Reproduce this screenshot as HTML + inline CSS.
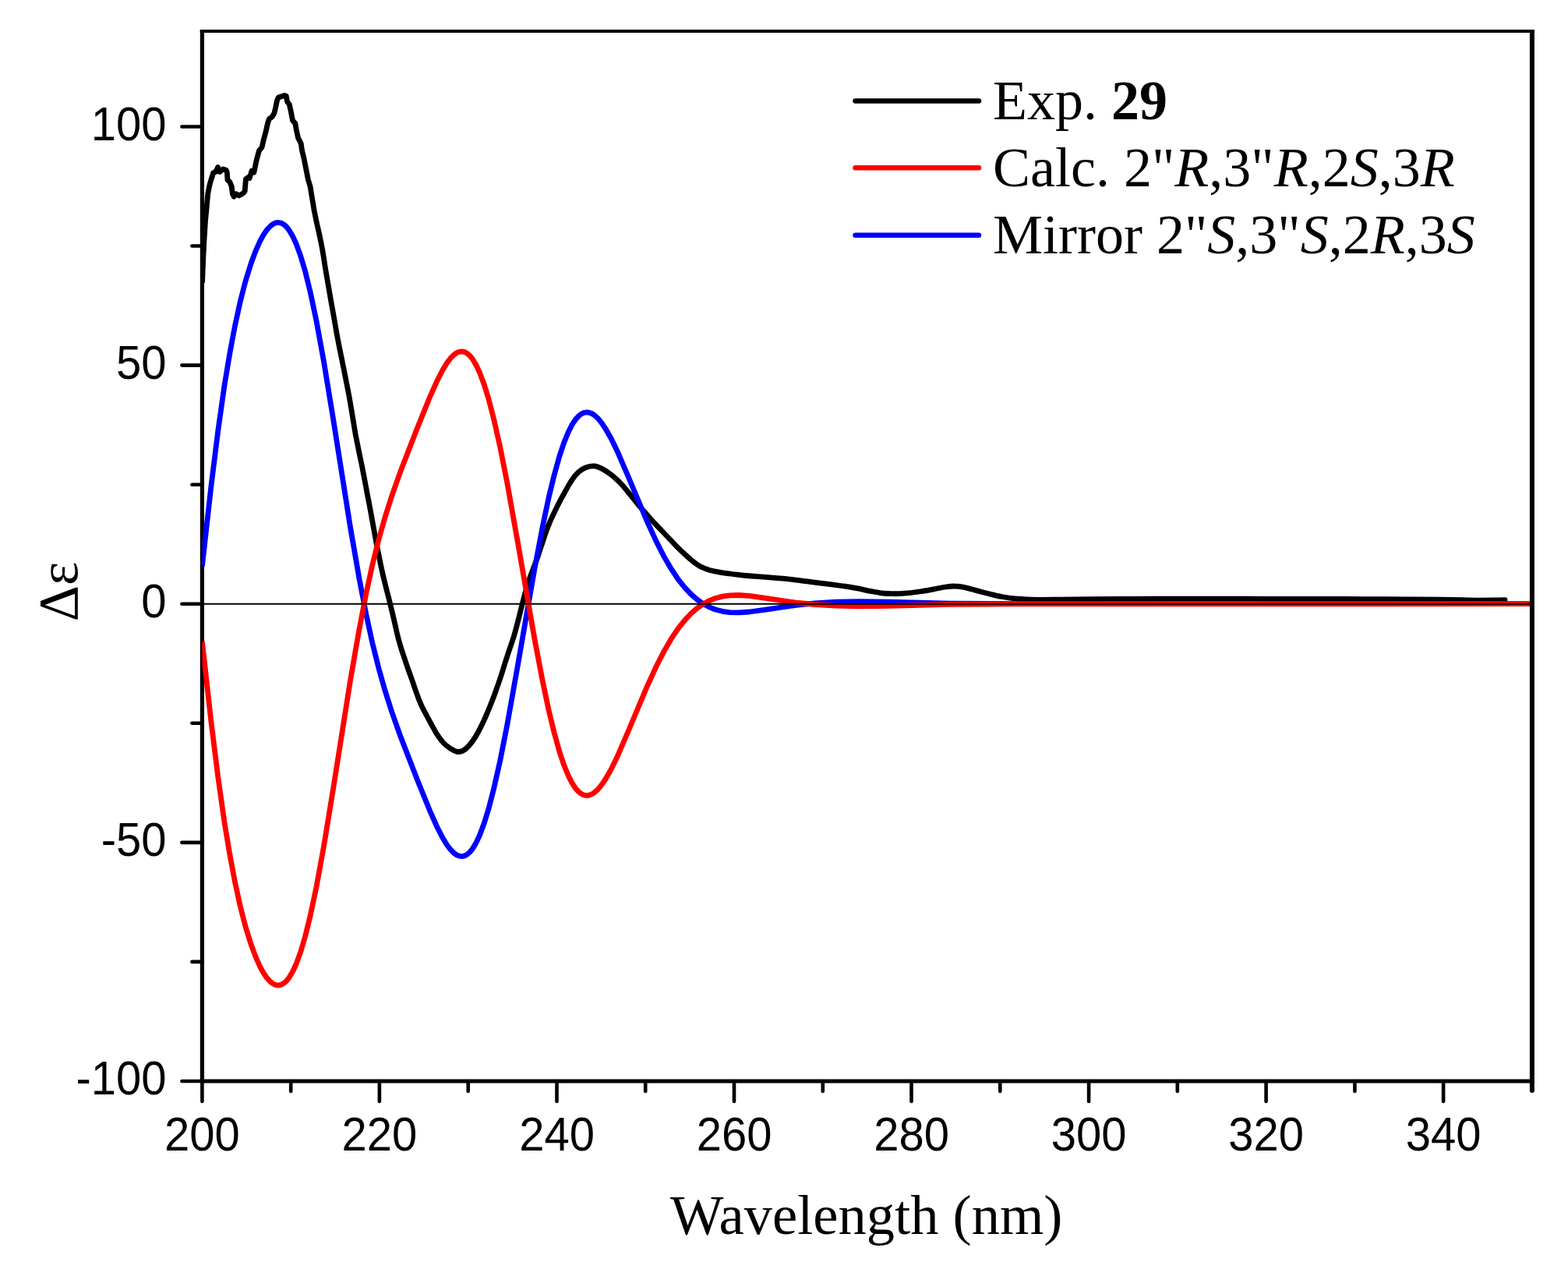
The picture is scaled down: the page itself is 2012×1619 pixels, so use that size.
<!DOCTYPE html>
<html><head><meta charset="utf-8"><title>CD spectrum</title><style>html,body{margin:0;padding:0;background:#fff;}svg{display:block;}</style></head><body>
<svg width="2012" height="1619" viewBox="0 0 2012 1619">
<rect width="2012" height="1619" fill="#fff"/>
<line x1="233.4" y1="1387.0" x2="259.4" y2="1387.0" stroke="#000" stroke-width="4.6" stroke-linecap="round"/>
<line x1="233.4" y1="1080.9" x2="259.4" y2="1080.9" stroke="#000" stroke-width="4.6" stroke-linecap="round"/>
<line x1="233.4" y1="774.7" x2="259.4" y2="774.7" stroke="#000" stroke-width="4.6" stroke-linecap="round"/>
<line x1="233.4" y1="468.6" x2="259.4" y2="468.6" stroke="#000" stroke-width="4.6" stroke-linecap="round"/>
<line x1="233.4" y1="162.5" x2="259.4" y2="162.5" stroke="#000" stroke-width="4.6" stroke-linecap="round"/>
<line x1="246.4" y1="1233.9" x2="259.4" y2="1233.9" stroke="#000" stroke-width="4.6" stroke-linecap="round"/>
<line x1="246.4" y1="927.8" x2="259.4" y2="927.8" stroke="#000" stroke-width="4.6" stroke-linecap="round"/>
<line x1="246.4" y1="621.7" x2="259.4" y2="621.7" stroke="#000" stroke-width="4.6" stroke-linecap="round"/>
<line x1="246.4" y1="315.5" x2="259.4" y2="315.5" stroke="#000" stroke-width="4.6" stroke-linecap="round"/>
<line x1="259.4" y1="1387.0" x2="259.4" y2="1413.0" stroke="#000" stroke-width="4.6" stroke-linecap="round"/>
<line x1="486.9" y1="1387.0" x2="486.9" y2="1413.0" stroke="#000" stroke-width="4.6" stroke-linecap="round"/>
<line x1="714.5" y1="1387.0" x2="714.5" y2="1413.0" stroke="#000" stroke-width="4.6" stroke-linecap="round"/>
<line x1="942.0" y1="1387.0" x2="942.0" y2="1413.0" stroke="#000" stroke-width="4.6" stroke-linecap="round"/>
<line x1="1169.5" y1="1387.0" x2="1169.5" y2="1413.0" stroke="#000" stroke-width="4.6" stroke-linecap="round"/>
<line x1="1397.1" y1="1387.0" x2="1397.1" y2="1413.0" stroke="#000" stroke-width="4.6" stroke-linecap="round"/>
<line x1="1624.6" y1="1387.0" x2="1624.6" y2="1413.0" stroke="#000" stroke-width="4.6" stroke-linecap="round"/>
<line x1="1852.1" y1="1387.0" x2="1852.1" y2="1413.0" stroke="#000" stroke-width="4.6" stroke-linecap="round"/>
<line x1="373.2" y1="1387.0" x2="373.2" y2="1400.0" stroke="#000" stroke-width="4.6" stroke-linecap="round"/>
<line x1="600.7" y1="1387.0" x2="600.7" y2="1400.0" stroke="#000" stroke-width="4.6" stroke-linecap="round"/>
<line x1="828.2" y1="1387.0" x2="828.2" y2="1400.0" stroke="#000" stroke-width="4.6" stroke-linecap="round"/>
<line x1="1055.8" y1="1387.0" x2="1055.8" y2="1400.0" stroke="#000" stroke-width="4.6" stroke-linecap="round"/>
<line x1="1283.3" y1="1387.0" x2="1283.3" y2="1400.0" stroke="#000" stroke-width="4.6" stroke-linecap="round"/>
<line x1="1510.8" y1="1387.0" x2="1510.8" y2="1400.0" stroke="#000" stroke-width="4.6" stroke-linecap="round"/>
<line x1="1738.4" y1="1387.0" x2="1738.4" y2="1400.0" stroke="#000" stroke-width="4.6" stroke-linecap="round"/>
<line x1="1965.9" y1="1387.0" x2="1965.9" y2="1399.0" stroke="#000" stroke-width="6.0" stroke-linecap="round"/>
<line x1="256.8" y1="40.0" x2="1968.9" y2="40.0" stroke="#000" stroke-width="3.8"/>
<line x1="256.8" y1="1387.0" x2="1968.9" y2="1387.0" stroke="#000" stroke-width="4.9"/>
<line x1="259.4" y1="38.1" x2="259.4" y2="1389.5" stroke="#000" stroke-width="5.2"/>
<line x1="1965.9" y1="38.1" x2="1965.9" y2="1389.5" stroke="#000" stroke-width="6.0"/>
<g font-family="'Liberation Sans', Arial, sans-serif" font-size="58" fill="#000">
<text transform="translate(213.6 1404.4) scale(1 1.050)" text-anchor="end">-100</text>
<text transform="translate(213.6 1098.3) scale(1 1.050)" text-anchor="end">-50</text>
<text transform="translate(213.6 792.1) scale(1 1.050)" text-anchor="end">0</text>
<text transform="translate(213.6 486.0) scale(1 1.050)" text-anchor="end">50</text>
<text transform="translate(213.6 179.9) scale(1 1.050)" text-anchor="end">100</text>
<text transform="translate(259.4 1476) scale(1 1.050)" text-anchor="middle">200</text>
<text transform="translate(486.9 1476) scale(1 1.050)" text-anchor="middle">220</text>
<text transform="translate(714.5 1476) scale(1 1.050)" text-anchor="middle">240</text>
<text transform="translate(942.0 1476) scale(1 1.050)" text-anchor="middle">260</text>
<text transform="translate(1169.5 1476) scale(1 1.050)" text-anchor="middle">280</text>
<text transform="translate(1397.1 1476) scale(1 1.050)" text-anchor="middle">300</text>
<text transform="translate(1624.6 1476) scale(1 1.050)" text-anchor="middle">320</text>
<text transform="translate(1852.1 1476) scale(1 1.050)" text-anchor="middle">340</text>
</g>
<text x="1111.75" y="1583" text-anchor="middle" font-family="'Liberation Serif', 'Times New Roman', serif" font-size="72.5">Wavelength (nm)</text>
<text transform="translate(99 759) rotate(-90)" text-anchor="middle" font-family="'Liberation Serif', 'Times New Roman', serif" font-size="72">Δε</text>
<defs><clipPath id="pc"><rect x="259.4" y="40.0" width="1703.5" height="1347.0"/></clipPath></defs>
<g clip-path="url(#pc)">
<path d="M259.6 361.0L260.8 330.8L262.0 307.3L263.5 283.8L265.3 265.0L266.7 248.7L268.5 239.3L269.7 234.6L272.6 225.2L273.8 221.7L276.7 220.5L279.6 214.6L282.0 220.5L286.1 217.0L290.2 218.2L291.4 221.7L292.0 231.0L294.9 233.4L297.2 239.3L298.4 248.7L300.2 252.2L303.1 248.7L306.6 251.0L309.0 249.8L312.5 247.5L314.2 245.1L315.4 229.9L318.3 227.5L320.1 228.7L323.0 219.3L325.9 221.2L328.7 207.3L332.4 193.4L336.1 188.8L338.0 180.4L340.8 170.2L343.5 158.2L345.4 152.6L349.1 149.9L351.9 145.2L353.7 137.8L355.6 128.5L357.4 124.8L361.1 123.9L364.9 122.5L367.2 123.0L368.6 130.4L371.3 134.1L373.2 142.4L375.5 154.5L378.8 158.2L380.1 165.6L382.5 176.7L386.2 184.1L387.6 193.4L389.9 202.7L391.7 211.9L393.6 221.2L395.4 230.5L398.2 239.7L399.6 249.0L401.5 260.0C401.8 261.6 402.3 265.7 403.1 269.8C403.9 273.9 405.0 279.2 406.1 284.6C407.3 289.9 408.8 296.1 410.0 301.8C411.2 307.6 412.4 313.3 413.5 319.1C414.5 324.9 415.4 330.6 416.3 336.4C417.2 342.2 418.1 347.9 419.1 353.7C420.1 359.5 421.1 365.2 422.1 371.0C423.1 376.8 424.1 382.5 425.1 388.3C426.1 394.0 427.2 399.8 428.2 405.5C429.2 411.3 430.2 417.0 431.2 422.8C432.2 428.6 433.3 434.3 434.4 440.1C435.5 445.9 436.7 451.6 437.9 457.4C439.1 463.2 440.2 468.9 441.4 474.7C442.5 480.5 443.7 486.1 444.8 492.0C446.0 497.9 447.2 504.2 448.3 510.1C449.3 515.9 450.3 521.7 451.2 527.0C452.1 532.3 452.7 536.5 453.6 541.8C454.5 547.2 455.4 552.9 456.5 559.0C457.7 565.2 459.2 572.2 460.5 578.8C461.8 585.4 463.3 591.9 464.6 598.5C465.9 605.1 467.2 612.1 468.4 618.3C469.6 624.5 470.7 630.2 471.7 635.8C472.8 641.4 473.7 645.9 474.8 651.8C475.9 657.7 477.0 664.3 478.3 671.2C479.6 678.2 480.9 686.0 482.4 693.5C483.8 700.9 485.3 708.7 486.8 716.0C488.2 723.2 489.8 730.7 491.3 737.1C492.8 743.6 494.3 749.5 495.5 754.5C496.8 759.6 497.9 763.6 498.8 767.2C499.7 770.8 500.2 772.8 500.9 775.9C501.7 779.0 502.4 781.8 503.3 785.7C504.3 789.6 505.5 794.9 506.5 799.3C507.5 803.7 508.6 808.5 509.4 812.2C510.3 816.0 511.0 818.7 511.8 821.5C512.5 824.3 513.2 826.4 513.9 828.9C514.6 831.4 515.4 833.8 516.2 836.3C517.0 838.8 517.9 841.2 518.7 843.7C519.6 846.2 520.4 848.7 521.3 851.5C522.2 854.2 523.1 856.7 524.3 860.1C525.5 863.5 527.0 867.4 528.6 872.0C530.2 876.7 532.2 882.8 534.1 888.0C535.9 893.3 537.9 898.7 540.0 903.4C542.0 908.1 544.2 911.9 546.5 916.2C548.8 920.5 551.2 924.9 553.6 929.3C556.1 933.7 558.5 938.4 561.0 942.4C563.6 946.3 566.1 950.0 569.0 953.0C571.8 956.0 575.2 958.5 578.1 960.4C581.0 962.3 584.0 963.8 586.5 964.3C589.1 964.8 591.0 964.6 593.5 963.4C595.9 962.2 598.5 960.2 601.3 957.1C604.1 954.1 607.2 949.9 610.2 945.1C613.2 940.3 616.2 934.3 619.1 928.3C622.0 922.3 624.8 915.6 627.5 909.1C630.2 902.6 632.7 895.9 635.2 889.3C637.6 882.7 639.9 876.1 642.1 869.5C644.3 862.9 646.3 856.0 648.3 849.8C650.3 843.5 652.2 837.8 654.0 832.2C655.9 826.6 657.6 822.2 659.4 816.3C661.1 810.5 662.8 803.8 664.6 797.2C666.3 790.5 668.1 783.0 669.8 776.4C671.5 769.8 673.1 763.4 674.8 757.5C676.5 751.7 678.3 745.9 679.9 741.1C681.5 736.4 683.0 733.0 684.6 728.8C686.1 724.7 687.5 721.4 689.3 716.4C691.0 711.4 693.1 704.8 695.1 699.0C697.0 693.2 699.1 686.6 700.9 681.6C702.7 676.7 704.1 673.1 705.8 669.2C707.4 665.3 709.2 661.8 711.0 658.0C712.8 654.3 714.9 649.9 716.6 646.5C718.4 643.0 719.8 640.3 721.4 637.4C723.0 634.5 724.4 632.2 726.0 629.2C727.7 626.2 729.4 622.8 731.5 619.5C733.6 616.2 736.0 612.3 738.6 609.4C741.3 606.4 744.7 603.6 747.7 601.7C750.8 599.9 754.1 598.8 756.9 598.2C759.7 597.6 762.0 597.7 764.5 598.1C767.0 598.6 769.3 599.7 772.1 601.1C775.0 602.6 778.3 604.7 781.5 607.0C784.7 609.3 788.1 612.0 791.2 614.9C794.3 617.7 797.1 620.8 800.1 624.1C803.0 627.5 805.7 631.1 808.8 634.8C811.9 638.6 815.1 642.6 818.4 646.7C821.8 650.7 825.5 655.0 829.0 659.0C832.5 663.0 836.0 667.0 839.4 670.6C842.8 674.3 846.0 677.6 849.3 681.0C852.6 684.4 855.7 687.8 858.9 691.2C862.2 694.5 865.3 698.0 868.6 701.3C871.9 704.6 875.3 707.9 878.7 710.9C882.0 714.0 885.5 717.2 888.8 719.9C892.1 722.5 895.2 724.9 898.7 726.8C902.2 728.6 905.7 729.9 909.8 731.2C913.9 732.4 919.0 733.4 923.4 734.1C927.8 734.9 932.3 735.4 936.0 735.9C939.6 736.4 941.7 736.7 945.3 737.1C948.8 737.6 952.6 738.1 957.2 738.5C961.7 738.9 967.5 739.3 972.3 739.6C977.1 740.0 981.2 740.3 985.9 740.6C990.7 741.0 995.3 741.3 1000.9 741.8C1006.4 742.3 1013.1 743.0 1019.5 743.8C1025.9 744.5 1032.8 745.5 1039.4 746.3C1046.0 747.2 1052.7 748.1 1059.3 748.9C1065.9 749.8 1072.6 750.6 1079.2 751.5C1085.8 752.5 1092.8 753.5 1099.0 754.7C1105.3 755.8 1111.4 757.3 1116.7 758.3C1122.0 759.3 1126.1 760.2 1130.7 760.8C1135.3 761.3 1139.4 761.6 1144.4 761.7C1149.4 761.8 1154.9 761.7 1160.8 761.2C1166.7 760.8 1173.4 759.9 1179.7 759.0C1186.0 758.1 1192.8 756.8 1198.3 755.8C1203.9 754.8 1208.9 753.6 1213.2 753.0C1217.6 752.4 1220.7 751.9 1224.4 752.0C1228.2 752.0 1231.3 752.4 1235.6 753.2C1240.0 754.1 1245.2 755.5 1250.5 756.9C1255.9 758.3 1262.1 760.0 1267.9 761.5C1273.7 762.9 1279.1 764.3 1285.3 765.5C1291.6 766.6 1297.9 767.6 1305.5 768.2C1313.1 768.8 1321.5 769.1 1331.0 769.3C1340.5 769.4 1350.6 769.2 1362.5 769.1C1374.4 769.0 1387.9 768.7 1402.5 768.6C1417.1 768.5 1433.8 768.4 1450.0 768.3C1466.2 768.3 1483.3 768.2 1500.0 768.2C1516.7 768.1 1533.3 768.1 1550.0 768.1C1566.7 768.1 1583.3 768.2 1600.0 768.2C1616.7 768.3 1633.3 768.4 1650.0 768.4C1666.7 768.4 1683.3 768.4 1700.0 768.4C1716.7 768.4 1733.3 768.5 1750.0 768.6C1766.7 768.6 1784.2 768.7 1800.0 768.8C1815.8 768.8 1832.1 768.9 1845.0 769.1C1857.9 769.3 1868.3 769.6 1877.5 769.7C1886.7 769.9 1893.3 770.1 1900.0 770.1C1906.7 770.1 1912.6 770.1 1917.8 770.0C1922.9 769.9 1928.8 769.7 1931.0 769.6" fill="none" stroke="#000" stroke-width="6.8" stroke-linejoin="round" stroke-linecap="round"/>
<path d="M259.4 726.7L270.8 624.7L279.9 551.6L287.8 495.8L294.7 454.1L301.5 417.9L308.3 386.8L315.1 360.4L322.0 338.2L327.7 322.8L333.3 310.0L337.9 301.6L342.4 294.9L347.0 290.0L350.4 287.4L353.8 285.9L357.2 285.5L360.7 286.1L364.1 287.9L367.5 290.9L370.9 295.2L375.4 302.8L380.0 312.6L385.7 328.2L391.4 347.3L398.2 374.8L406.2 412.8L415.3 462.6L427.8 539.0L449.4 675.6L460.8 741.4L469.9 788.4L477.8 824.7L485.8 856.8L493.8 885.1L502.9 913.7L514.2 945.6L535.9 1001.5L551.8 1040.6L560.9 1061.0L567.7 1074.3L573.4 1083.7L577.9 1089.7L582.5 1094.4L585.9 1096.8L589.3 1098.2L592.7 1098.6L596.1 1097.9L599.6 1096.0L603.0 1093.0L606.4 1088.8L610.9 1081.2L615.5 1071.5L621.2 1056.3L626.9 1037.8L633.7 1011.6L641.7 976.0L650.8 929.9L664.4 853.5L686.0 729.3L696.3 675.4L704.2 637.9L711.1 609.6L717.9 585.2L723.6 568.1L729.3 554.2L733.8 545.2L738.4 538.3L741.8 534.4L745.2 531.5L748.6 529.7L752.0 529.0L755.4 529.2L758.8 530.3L762.2 532.3L766.8 536.3L771.3 541.6L777.0 550.0L783.9 562.0L793.0 580.8L806.6 612.5L829.4 666.8L841.9 694.1L852.1 714.1L861.2 729.7L870.3 743.3L878.3 753.4L886.3 761.9L894.2 768.9L902.2 774.5L910.1 778.8L918.1 782.0L927.2 784.3L936.3 785.6L947.7 785.9L961.3 785.0L984.1 781.9L1019.4 776.7L1045.5 773.9L1072.8 772.2L1102.4 771.6L1141.1 772.1L1218.5 774.1L1303.8 774.7L1962.7 774.7" fill="none" stroke="#0000ff" stroke-width="6.8" stroke-linejoin="round"/>
<path d="M259.4 822.7L270.8 924.8L279.9 997.8L287.8 1053.7L294.7 1095.4L301.5 1131.6L308.3 1162.7L315.1 1189.1L322.0 1211.2L327.7 1226.7L333.3 1239.5L337.9 1247.8L342.4 1254.5L347.0 1259.5L350.4 1262.0L353.8 1263.6L357.2 1264.0L360.7 1263.3L364.1 1261.5L367.5 1258.5L370.9 1254.3L375.4 1246.7L380.0 1236.8L385.7 1221.3L391.4 1202.1L398.2 1174.6L406.2 1136.7L415.3 1086.8L427.8 1010.5L449.4 873.8L460.8 808.0L469.9 761.1L477.8 724.7L485.8 692.6L493.8 664.4L502.9 635.8L514.2 603.9L535.9 548.0L551.8 508.8L560.9 488.5L567.7 475.2L573.4 465.8L577.9 459.7L582.5 455.1L585.9 452.7L589.3 451.3L592.7 450.9L596.1 451.6L599.6 453.4L603.0 456.5L606.4 460.7L610.9 468.2L615.5 478.0L621.2 493.2L626.9 511.6L633.7 537.8L641.7 573.4L650.8 619.5L664.4 695.9L686.0 820.1L696.3 874.0L704.2 911.5L711.1 939.9L717.9 964.3L723.6 981.3L729.3 995.3L733.8 1004.2L738.4 1011.2L741.8 1015.1L745.2 1017.9L748.6 1019.7L752.0 1020.5L755.4 1020.3L758.8 1019.1L762.2 1017.1L766.8 1013.1L771.3 1007.8L777.0 999.5L783.9 987.4L793.0 968.7L806.6 937.0L829.4 882.7L841.9 855.3L852.1 835.4L861.2 819.7L870.3 806.2L878.3 796.1L886.3 787.5L894.2 780.5L902.2 774.9L910.1 770.6L918.1 767.5L927.2 765.1L936.3 763.9L947.7 763.5L961.3 764.4L984.1 767.6L1019.4 772.8L1045.5 775.5L1072.8 777.2L1102.4 777.8L1141.1 777.3L1218.5 775.3L1303.8 774.8L1962.7 774.7" fill="none" stroke="#ff0000" stroke-width="6.8" stroke-linejoin="round"/>
</g>
<line x1="259.4" y1="774.7" x2="1965.9" y2="774.7" stroke="#000" stroke-width="2"/>
<line x1="1097.5" y1="129.4" x2="1256" y2="129.4" stroke="#000" stroke-width="6.5" stroke-linecap="round"/>
<line x1="1097.5" y1="215.2" x2="1256" y2="215.2" stroke="#ff0000" stroke-width="6.5" stroke-linecap="round"/>
<line x1="1097.5" y1="301.7" x2="1256" y2="301.7" stroke="#0000ff" stroke-width="6.5" stroke-linecap="round"/>
<g font-family="'Liberation Serif', 'Times New Roman', serif" font-size="72" fill="#000">
<text x="1274" y="153.4">Exp. <tspan font-weight="bold">29</tspan></text>
<text x="1274" y="239.4">Calc. 2"<tspan font-style="italic">R</tspan>,3"<tspan font-style="italic">R</tspan>,2<tspan font-style="italic">S</tspan>,3<tspan font-style="italic">R</tspan></text>
<text x="1274" y="325.2">Mirror 2"<tspan font-style="italic">S</tspan>,3"<tspan font-style="italic">S</tspan>,2<tspan font-style="italic">R</tspan>,3<tspan font-style="italic">S</tspan></text>
</g>
</svg>
</body></html>
